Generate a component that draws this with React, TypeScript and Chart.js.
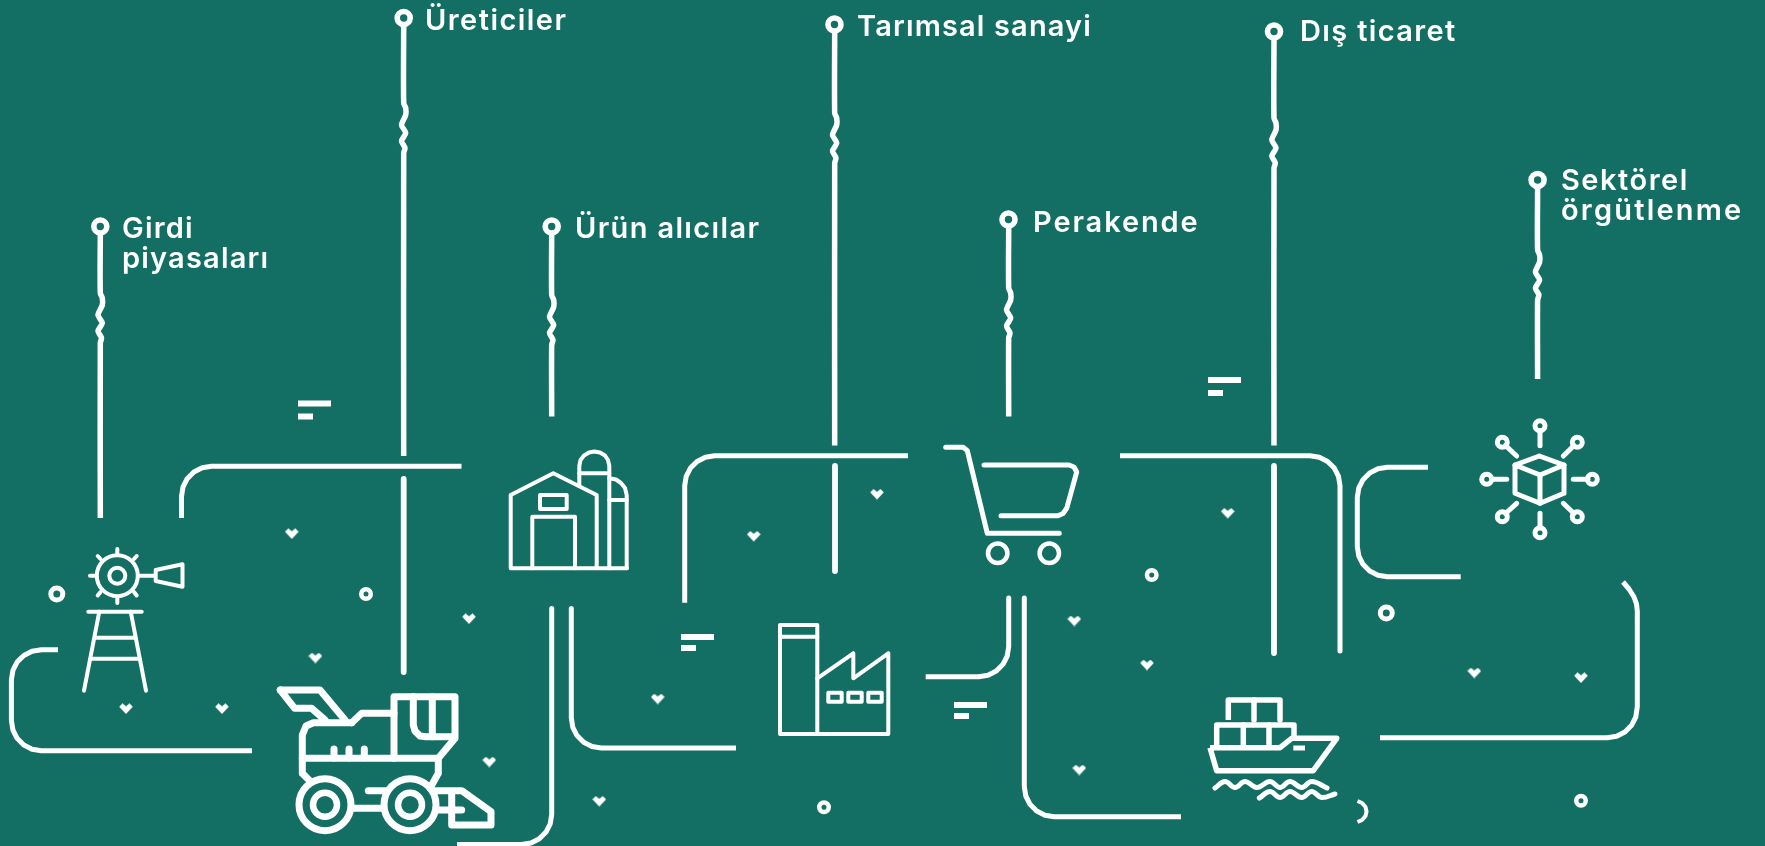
import React, { useEffect, useRef } from "react";
import { Chart, registerables } from "chart.js";

Chart.register(...registerables);

type P = number[];
const BG = "#136f63";
const INK = "#ffffff";

// ---- text labels: [text, left x, baseline y]
const labels: [string, number, number][] = [
  ["Girdi", 122, 237.5],
  ["piyasaları", 122, 267.5],
  ["Üreticiler", 425, 29.5],
  ["Ürün alıcılar", 575, 238],
  ["Tarımsal sanayi", 857, 35.5],
  ["Perakende", 1033, 232],
  ["Dış ticaret", 1300, 41],
  ["Sektörel", 1561, 190],
  ["örgütlenme", 1561, 220],
];
const labelSpacing: number[] = [1.2, 1.2, 1.45, 1.35, 1.15, 1.9, 1.35, 1.5, 2.2];

// ---- stems
const stemGirdi: P[] = [[100.3,235],[100.3,293],[102.3,298],[102.3,305],[98,315],[102.3,323],[98,331],[101.5,338],[100.3,343],[100.3,518]];
const stemUretici1: P[] = [[403.7,26],[403.7,103],[405.7,108],[405.7,115],[401.5,125],[405.7,133],[401.5,141],[405,148],[403.7,153],[403.7,456]];
const stemUretici2: P[] = [[403.7,479],[403.7,672]];
const stemUrun: P[] = [[551.7,235],[551.7,295],[553.7,300],[553.7,307],[549.5,317],[553.7,325],[549.5,333],[553,340],[551.7,345],[551.7,416.5]];
const stemTarim1: P[] = [[834.7,33],[834.7,113],[836.7,118],[836.7,125],[832.5,135],[836.7,143],[832.5,151],[836,158],[834.7,163],[834.7,445.5]];
const stemTarim2: P[] = [[835,466],[835,571]];
const stemPerakende: P[] = [[1008.7,228],[1008.7,288],[1010.7,293],[1010.7,300],[1006.5,310],[1010.7,318],[1006.5,326],[1010,333],[1008.7,338],[1008.7,416.5]];
const stemDis1: P[] = [[1274,40],[1274,118],[1276,123],[1276,130],[1271.8,140],[1276,148],[1271.8,156],[1275.3,163],[1274,168],[1274,445.5]];
const stemDis2: P[] = [[1274,466],[1274,653]];
const stemSektor: P[] = [[1537.6,189],[1537.6,250],[1539.6,255],[1539.6,262],[1535.4,272],[1539.6,280],[1535.4,288],[1538.9,295],[1537.6,300],[1537.6,379]];
const stemHeads: P[] = [[100.3,226.5],[403.7,18],[551.7,226.5],[834.5,24.5],[1008.5,219.5],[1274,31.5],[1537.6,180]];

// ---- rounded connector lines
const lineA: P[] = [[58,649.7],[41.4,649.7],[32.1,651.2],[23.8,655.4],[17.1,662.1],[12.9,670.4],[11.4,679.7],[11.4,720.7],[12.9,730],[17.1,738.3],[23.8,745],[32.1,749.2],[41.4,750.7],[252,750.7]];
const lineB: P[] = [[181.5,518],[181.5,496.3],[183,487],[187.2,478.7],[193.9,472],[202.2,467.8],[211.5,466.3],[461.5,466.3]];
const lineC: P[] = [[551.7,608.5],[551.7,814.5],[550.2,823.8],[546,832.1],[539.3,838.8],[531,843],[521.7,844.5],[457,844.5]];
const lineD: P[] = [[571.3,608.5],[571.3,718],[572.8,727.3],[577,735.6],[583.7,742.3],[592,746.5],[601.3,748],[736,748]];
const lineE: P[] = [[684.7,602.7],[684.7,485.7],[686.2,476.4],[690.4,468.1],[697.1,461.4],[705.4,457.2],[714.7,455.7],[908,455.7]];
const lineF: P[] = [[1120,455.7],[1310,455.7],[1319.3,457.2],[1327.6,461.4],[1334.3,468.1],[1338.5,476.4],[1340,485.7],[1340,651]];
const lineG: P[] = [[1008.7,598],[1008.7,646.7],[1007.2,656],[1003,664.3],[996.3,671],[988,675.2],[978.7,676.7],[925.7,676.7]];
const lineH: P[] = [[1024.3,598],[1024.3,786.7],[1025.8,796],[1030,804.3],[1036.7,811],[1045,815.2],[1054.3,816.7],[1181,816.7]];
const lineI: P[] = [[1428,467.3],[1387.3,467.3],[1378,468.8],[1369.7,473],[1363,479.7],[1358.8,488],[1357.3,497.3],[1357.3,546.7],[1358.8,556],[1363,564.3],[1369.7,571],[1378,575.2],[1387.3,576.7],[1460.7,576.7]];
const lineJ: P[] = [[1623,582],[1629,589],[1634,597],[1636.5,604],[1637.3,611],[1637.3,706.7],[1635.8,717],[1631.6,725.3],[1624.9,732],[1616.6,736.2],[1607.3,737.7],[1380,737.7]];
const hook: P[] = [[1357.5,801],[1362,803],[1365.5,807],[1366.5,811.5],[1365.5,816],[1362,820],[1357.5,822]];

// ---- little two-bar marks
const bar1a: P[] = [[298,403.5],[331,403.5]];
const bar1b: P[] = [[298,416.5],[313,416.5]];
const bar2a: P[] = [[681,637],[714,637]];
const bar2b: P[] = [[681,648],[696,648]];
const bar3a: P[] = [[954,705],[987,705]];
const bar3b: P[] = [[954,716],[969,716]];
const bar4a: P[] = [[1208,380],[1241,380]];
const bar4b: P[] = [[1208,393],[1223,393]];

// ---- scattered decorations
const hearts: P[] = [[291.8,533.7],[126,708.7],[222,708.7],[315.4,658],[469,618.7],[489.3,762],[599.3,801.3],[657.7,699],[753.7,536.3],[877,494.3],[1227.7,513.3],[1074.3,621],[1147,665],[1079.3,770],[1474.3,673],[1581,677.7]];
const bigDots: P[] = [[56.8,594],[1386.3,613]];
const smallDots: P[] = [[366,594],[824,807.3],[1151.7,575],[1581,800.7]];

// ---- windmill icon
const millRim: P[] = [[117.3,575.7]];
const millHub: P[] = [[117.3,575.7]];
const millTeeth: P[][] = [
  [[117.3,549],[117.3,554]],[[117.3,597.5],[117.3,603]],[[90,575.7],[95,575.7]],
  [[97.7,556],[100.5,559]],[[136.7,556],[134,559]],[[97.7,595.5],[100.5,592]],[[136.7,595.5],[134,592]],
];
const millShaft: P[] = [[140,575.7],[155,575.7]];
const millVane: P[] = [[155.7,570],[182.5,564.3],[182.5,586.7],[155.7,581],[155.7,570]];
const millDeck: P[] = [[88.3,611.7],[141.7,611.7]];
const millLegL: P[] = [[99.3,611.7],[84,690.7]];
const millLegR: P[] = [[130.7,611.7],[146,690.7]];
const millRung1: P[] = [[95,637.7],[135,637.7]];
const millRung2: P[] = [[90.7,658.7],[139.3,658.7]];

// ---- harvester icon
const hvChuteTop: P[] = [[280.3,690],[320,690],[345,720]];
const hvChuteLow: P[] = [[280.3,690],[294.7,708.3],[311.7,708.3],[325,720]];
const hvBody: P[] = [[351.7,722.7],[313.3,722.7],[306,726],[302.3,735],[302.3,773.3],[310.7,781.7]];
const hvHood: P[] = [[351.7,722.7],[361.7,713.3],[394,713.3]];
const hvCab: P[] = [[394,758.3],[394,696.7],[455,696.7],[455,738.3],[438.3,758.3],[438.3,773.3],[430,788.3]];
const hvDeck: P[] = [[302.3,758.3],[438.3,758.3]];
const hvGlass1: P[] = [[413.3,696.7],[413.3,725],[415,731],[420,736],[426,736.7],[453.3,736.7]];
const hvGlass2: P[] = [[432.3,696.7],[432.3,736.7]];
const hvTick1: P[] = [[334,749],[334,758]];
const hvTick2: P[] = [[349,749],[349,758]];
const hvTick3: P[] = [[364.3,749],[364.3,758]];
const hvWheels: P[] = [[325,804.7],[410,804.7]];
const hvAxle: P[] = [[353.3,808.3],[381.7,808.3]];
const hvRod: P[] = [[368.3,790.7],[385,790.7]];
const hvHeader: P[] = [[435,790.7],[461.7,790.7],[491,811.7],[491,825],[451.7,825],[451.7,793.3]];
const hvBar: P[] = [[436.7,810],[461.7,810]];

// ---- barn icon
const barnWalls: P[] = [[596.7,568.3],[596.7,495],[553.3,473.3],[510.7,495],[510.7,568.3],[627,568.3]];
const barnWindow: P[] = [[540,495],[566.7,495],[566.7,509],[540,509],[540,495]];
const barnDoor: P[] = [[532.3,568.3],[532.3,516.7],[575,516.7],[575,568.3]];
const siloA: P[] = [[579.3,486],[579.3,466],[580.5,460],[584,455.5],[589,452.5],[594.3,451.5],[600,452.5],[605,455.5],[608,460],[609.3,466],[609.3,568.3]];
const siloABand: P[] = [[579.3,473.3],[609.3,473.3]];
const siloB: P[] = [[609.3,478.3],[616,479.5],[621,483],[625,488],[626.7,495],[626.7,568.3]];
const siloBBand: P[] = [[609.3,500],[626.7,500]];

// ---- factory icon
const chimney: P[] = [[780,625],[817.3,625],[817.3,734],[780,734],[780,625]];
const chimneyBand: P[] = [[780,636.7],[817.3,636.7]];
const shed: P[] = [[817.3,678.3],[853.3,653.3],[853.3,678.3],[888.3,653.3],[888.3,734],[817.3,734]];
const win1: P[] = [[828.3,692.7],[841.7,692.7],[841.7,701.7],[828.3,701.7],[828.3,692.7]];
const win2: P[] = [[848.3,692.7],[861.7,692.7],[861.7,701.7],[848.3,701.7],[848.3,692.7]];
const win3: P[] = [[868.3,692.7],[881.7,692.7],[881.7,701.7],[868.3,701.7],[868.3,692.7]];

// ---- cart icon
const cartFrame: P[] = [[945.7,447.3],[963.3,447.3],[967.3,450.7],[987.3,533.3],[1059.3,533.3]];
const cartBasket: P[] = [[984,465],[1069,465],[1074,467],[1076.7,472],[1066.7,508.3],[1063,513.5],[1058,515.7],[1001,515.7]];
const cartWheels: P[] = [[997.7,553.3],[1049.3,553.3]];

// ---- ship icon
const boxTop: P[] = [[1228.3,720],[1228.3,700],[1280,700],[1280,720]];
const boxTopMid: P[] = [[1254,700],[1254,720]];
const boxLow: P[] = [[1216.7,745],[1216.7,725],[1294,725],[1294,735]];
const boxLowA: P[] = [[1243.3,725],[1243.3,745]];
const boxLowB: P[] = [[1269,725],[1269,745]];
const hull: P[] = [[1210,747.7],[1280,747.7],[1291.7,738.3],[1336.7,738.3],[1313.3,770.7],[1216.7,770.7],[1210,747.7]];
const port: P[] = [[1293.3,748],[1305,748]];
const wave1: P[] = [[1215,788],[1225,781.5],[1235,787.5],[1245,781.5],[1256.7,787.5],[1270,781.5],[1280,787.5],[1290,781.5],[1301.7,787.5],[1311.7,781.5],[1327,788]];
const wave2: P[] = [[1259.3,798],[1270,791.5],[1280,797.5],[1290,791.5],[1301.7,797.5],[1311.7,791.5],[1321.7,797.5],[1335,794]];

// ---- cube icon
const cube: P[] = [[1539.3,456],[1564,465],[1564,493.3],[1540,503.3],[1515,493.3],[1515,465],[1539.3,456]];
const cubeEdges: P[] = [[1515,465],[1540,475],[1564,465]];
const cubeSpine: P[] = [[1540,475],[1540,503.3]];
const spokes: P[][] = [
  [[1540,431],[1540,445.7]],[[1540,513.3],[1540,528]],[[1493,479.3],[1506.7,479.3]],[[1573.3,479.3],[1588,479.3]],
  [[1505.5,445.5],[1516.7,456]],[[1574,445.5],[1563.3,456]],[[1505.5,513.5],[1516.7,503.3]],[[1574,513.5],[1563.3,503.3]],
];
const cubeNodes: P[] = [[1540,425.7],[1540,532.7],[1486.7,479.3],[1592.3,479.3],[1502.3,442.3],[1577.3,442.3],[1502.3,516.7],[1577.3,516.7]];

const toXY = (pts: P[]) => pts.map(([x, y]) => ({ x, y }));

function heartStyle() {
  const c = document.createElement("canvas");
  c.width = 14;
  c.height = 11;
  const g = c.getContext("2d")!;
  g.fillStyle = INK;
  g.beginPath();
  g.moveTo(0.2, 3.5);
  g.lineTo(3.5, 0.2);
  g.lineTo(7, 3);
  g.lineTo(10.5, 0.2);
  g.lineTo(13.8, 3.5);
  g.lineTo(7, 10.8);
  g.closePath();
  g.fill();
  return c;
}

const stroke = (pts: P[], width: number, tension = 0, cap: CanvasLineCap = "round") => ({
  data: toXY(pts),
  showLine: true,
  borderColor: INK,
  borderWidth: width,
  borderCapStyle: cap,
  borderJoinStyle: "round" as CanvasLineJoin,
  tension,
  pointRadius: 0,
  pointHoverRadius: 0,
  fill: false,
});

const rings = (pts: P[], radius: number, width: number) => ({
  data: toXY(pts),
  showLine: false,
  pointStyle: "circle",
  pointRadius: radius,
  pointBorderWidth: width,
  pointBorderColor: INK,
  pointBackgroundColor: "rgba(0,0,0,0)",
});

const labelPlugin = {
  id: "textLabels",
  afterDatasetsDraw(chart: any) {
    const { ctx, scales } = chart;
    ctx.save();
    ctx.fillStyle = INK;
    ctx.font = '600 29px Inter, sans-serif';
    ctx.textBaseline = "alphabetic";
    ctx.textAlign = "left";
    labels.forEach(([text, x, y], i) => {
      (ctx as any).letterSpacing = `${labelSpacing[i]}px`;
      ctx.fillText(text, scales.x.getPixelForValue(x), scales.y.getPixelForValue(y));
    });
    ctx.restore();
  },
};

export default function App() {
  const ref = useRef<HTMLCanvasElement>(null);
  useEffect(() => {
    if (!ref.current) return;
    const connectors: P[][] = [lineA, lineB, lineC, lineD, lineE, lineF, lineG, lineH, lineI, lineJ];
    const stems: P[][] = [stemGirdi, stemUretici1, stemUrun, stemTarim1, stemPerakende, stemDis1, stemSektor];
    const stubs: P[][] = [stemUretici2, stemTarim2, stemDis2];
    const thin: P[][] = [
      ...millTeeth, millShaft, millVane, millDeck, millLegL, millLegR, millRung1, millRung2,
      barnWalls, barnWindow, barnDoor, siloA, siloABand, siloB, siloBBand,
      chimney, chimneyBand, shed, win1, win2, win3,
    ];
    const heavy: P[][] = [
      hvChuteTop, hvChuteLow, hvBody, hvHood, hvCab, hvDeck, hvGlass1, hvGlass2, hvTick1, hvTick2, hvTick3,
      hvAxle, hvRod, hvHeader, hvBar,
    ];
    const medium: P[][] = [cartFrame, cartBasket, cube, cubeEdges, cubeSpine, ...spokes];
    const ship: P[][] = [boxTop, boxTopMid, boxLow, boxLowA, boxLowB, hull];
    const bars: P[][] = [bar1a, bar1b, bar2a, bar2b, bar3a, bar3b, bar4a, bar4b];
    const chart = new Chart(ref.current, {
      type: "scatter",
      data: {
        datasets: [
          ...connectors.map((p) => stroke(p, 5, 0, "butt")),
          ...stems.map((p) => stroke(p, 5.5, 0.25, "butt")),
          ...stubs.map((p) => stroke(p, 5.8, 0, "butt")),
          ...thin.map((p) => stroke(p, 4)),
          ...heavy.map((p) => stroke(p, 7)),
          ...medium.map((p) => stroke(p, 5)),
          ...ship.map((p) => stroke(p, 5.5, 0, "butt")),
          ...bars.map((p) => stroke(p, 6, 0, "butt")),
          stroke(port, 5, 0, "butt"),
          stroke(wave1, 5, 0.4),
          stroke(wave2, 5, 0.4),
          stroke(hook, 4, 0, "butt"),
          rings(stemHeads, 6.5, 5.6),
          rings(bigDots, 6, 5),
          rings(smallDots, 4.75, 4.5),
          rings(millRim, 20.5, 4),
          rings(millHub, 8, 4),
          rings(hvWheels, 26, 7),
          rings(hvWheels, 12, 6.5),
          rings(cartWheels, 9.7, 4.5),
          rings(cubeNodes, 5, 5),
          {
            data: toXY(hearts),
            showLine: false,
            pointStyle: heartStyle(),
            pointRadius: 7,
          },
        ] as any,
      },
      options: {
        animation: false,
        responsive: false,
        maintainAspectRatio: false,
        layout: { padding: 0, autoPadding: false },
        plugins: { legend: { display: false }, tooltip: { enabled: false }, title: { display: false } },
        events: [],
        scales: {
          x: { type: "linear", min: 0, max: 1765, display: false },
          y: { type: "linear", min: 0, max: 846, reverse: true, display: false },
        },
      },
      plugins: [labelPlugin],
    });
    return () => chart.destroy();
  }, []);
  return (
    <canvas
      ref={ref}
      width={1765}
      height={846}
      style={{ position: "fixed", left: 0, top: 0, background: BG }}
    />
  );
}
